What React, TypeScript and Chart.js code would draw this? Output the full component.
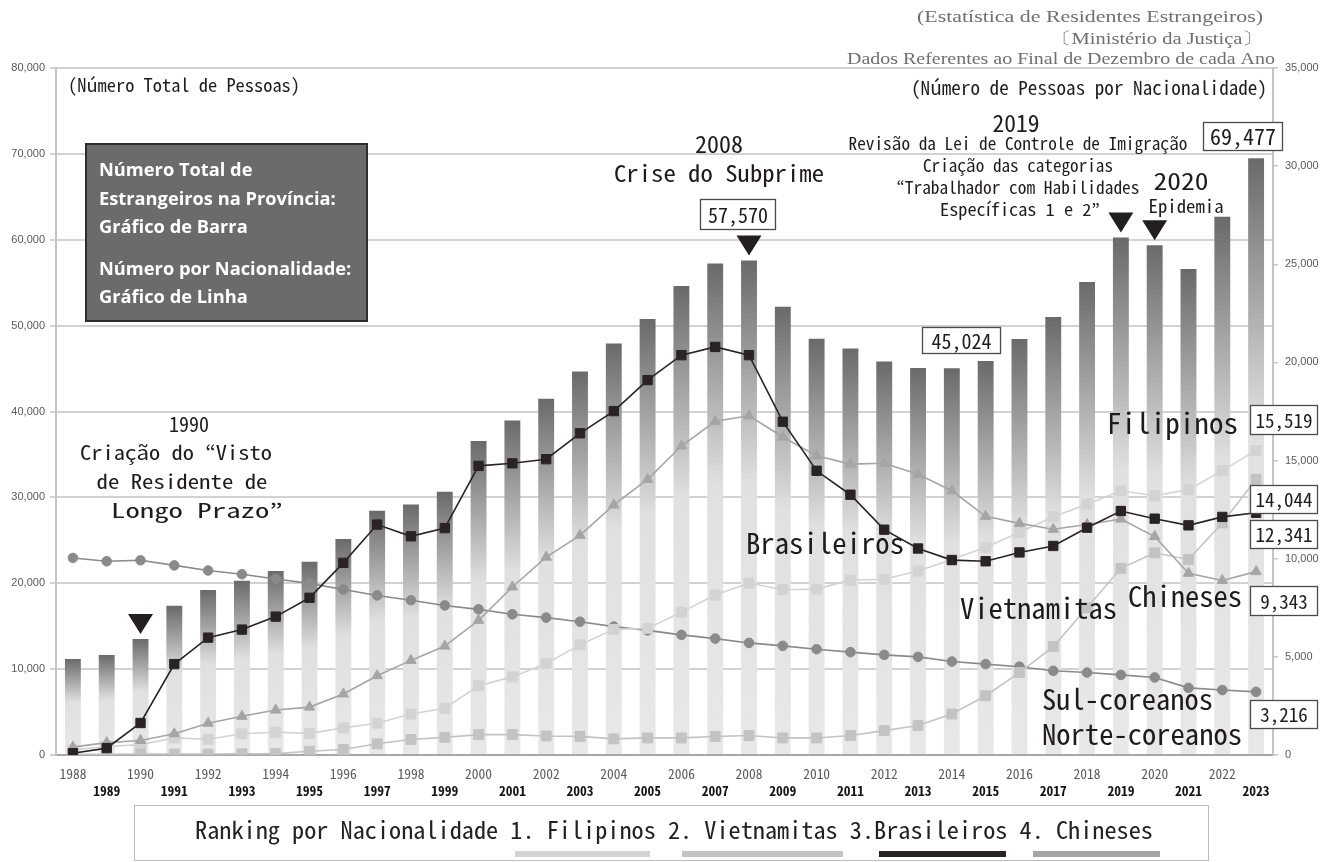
import React, { useEffect, useRef } from 'react';
import { Chart, registerables } from 'chart.js';

Chart.register(...registerables);

// ---------- DATA ----------
const years = [
  '1988', '1989', '1990', '1991', '1992', '1993', '1994', '1995', '1996', '1997', '1998', '1999',
  '2000', '2001', '2002', '2003', '2004', '2005', '2006', '2007', '2008', '2009', '2010', '2011',
  '2012', '2013', '2014', '2015', '2016', '2017', '2018', '2019', '2020', '2021', '2022', '2023',
];

// Total foreign residents (left axis, bars)
const totalForeigners = [
  11180, 11640, 13500, 17380, 19200, 20300, 21440, 22500, 25150, 28440, 29180, 30650,
  36560, 38950, 41480, 44660, 47920, 50760, 54600, 57220, 57570, 52190, 48470, 47350,
  45830, 45070, 45024, 45870, 48430, 51000, 55070, 60270, 59370, 56580, 62670, 69477,
];

// Residents by nationality (right axis, lines)
const filipinos = [
  260, 430, 530, 870, 800, 1080, 1160, 1100, 1380, 1620, 2090, 2380,
  3530, 3980, 4660, 5610, 6400, 6450, 7280, 8150, 8760, 8420, 8450, 8910,
  8950, 9370, 9960, 10580, 11340, 12140, 12780, 13460, 13210, 13520, 14490, 15519,
];
const vietnamitas = [
  40, 40, 50, 50, 50, 60, 70, 190, 280, 570, 790, 900,
  1040, 1040, 970, 950, 820, 870, 870, 940, 990, 870, 870, 990,
  1240, 1500, 2090, 3020, 4200, 5520, 7500, 9510, 10300, 9960, 11820, 14044,
];
const brasileiros = [
  90, 350, 1630, 4630, 5980, 6390, 7050, 8010, 9790, 11740, 11140, 11560,
  14730, 14860, 15070, 16390, 17520, 19100, 20370, 20790, 20370, 16980, 14480, 13260,
  11480, 10520, 9930, 9870, 10320, 10650, 11580, 12430, 12040, 11700, 12130, 12341,
];
const chineses = [
  400, 630, 740, 1080, 1620, 1970, 2290, 2440, 3110, 4040, 4820, 5550,
  6860, 8560, 10080, 11190, 12740, 14040, 15740, 17000, 17280, 16200, 15250, 14820,
  14860, 14300, 13460, 12160, 11800, 11500, 11740, 12020, 11130, 9260, 8890, 9343,
];
const coreanos = [
  10040, 9870, 9920, 9660, 9400, 9210, 8970, 8745, 8430, 8130, 7885, 7620,
  7420, 7170, 7000, 6790, 6540, 6350, 6120, 5930, 5710, 5560, 5390, 5240,
  5100, 5000, 4760, 4630, 4500, 4290, 4200, 4080, 3950, 3420, 3310, 3216,
];

const markedYears = ['1990', '2008', '2019', '2020'];

const COLORS = {
  filipinos: '#d3d3d3',
  vietnamitas: '#c3c3c3',
  brasileiros: '#2a2324',
  chineses: '#a5a5a5',
  coreanos: '#8a8a8a',
};

const MONO = "'Noto Sans Mono CJK JP', 'Noto Sans CJK JP', 'DejaVu Sans Mono', monospace";
const SERIF = "'Liberation Serif', 'DejaVu Serif', serif";
const SANS = "'Liberation Sans', Arial, sans-serif";
const BOXSANS = "'Open Sans', 'Noto Sans', sans-serif";

type TOpt = {
  align?: 'left' | 'center' | 'right';
  width?: number;
  color?: string;
  family?: string;
  weight?: string;
};

function drawText(ctx: CanvasRenderingContext2D, text: string, x: number, y: number, size: number, opt: TOpt = {}) {
  ctx.save();
  ctx.font = `${opt.weight || 'normal'} ${size}px ${opt.family || MONO}`;
  ctx.fillStyle = opt.color || '#1f1a1b';
  ctx.textBaseline = 'middle';
  ctx.textAlign = 'left';
  const w0 = ctx.measureText(text).width || 1;
  const w = opt.width || w0;
  let left = x;
  if (opt.align === 'center') left = x - w / 2;
  else if (opt.align === 'right') left = x - w;
  ctx.translate(left, y);
  ctx.scale(w / w0, 1);
  ctx.fillText(text, 0, 0);
  ctx.restore();
}

function valueBox(ctx: CanvasRenderingContext2D, x0: number, y0: number, x1: number, y1: number, text: string, size: number) {
  ctx.save();
  ctx.fillStyle = '#ffffff';
  ctx.fillRect(x0, y0, x1 - x0, y1 - y0);
  ctx.strokeStyle = '#4a4a4a';
  ctx.lineWidth = 1.3;
  ctx.strokeRect(x0 + 0.5, y0 + 0.5, x1 - x0, y1 - y0);
  ctx.restore();
  drawText(ctx, text, (x0 + x1) / 2 + 0.5, (y0 + y1) / 2 + 1, size, { align: 'center' });
}

const annotationPlugin = {
  id: 'annotations',
  afterDraw(chart: any) {
    const ctx: CanvasRenderingContext2D = chart.ctx;
    const xs = chart.scales.x;
    const ys = chart.scales.y;

    // Source lines (top right)
    const gray = '#6f6f6f';
    drawText(ctx, '(Estatística de Residentes Estrangeiros)', 1263, 18, 17, { align: 'right', width: 346, color: gray, family: SERIF });
    drawText(ctx, '〔Ministério da Justiça〕', 1263, 40, 17, { align: 'right', width: 212, color: gray, family: SERIF });
    drawText(ctx, 'Dados Referentes ao Final de Dezembro de cada Ano', 1275, 60, 17, { align: 'right', width: 428, color: gray, family: SERIF });

    // Axis captions
    drawText(ctx, '(Número Total de Pessoas)', 68, 85, 18.5, { width: 232 });
    drawText(ctx, '(Número de Pessoas por Nacionalidade)', 1267, 88, 19, { align: 'right', width: 356 });

    // Dark explanation box
    ctx.save();
    ctx.fillStyle = '#6b6b6b';
    ctx.fillRect(86, 144, 281, 177);
    ctx.strokeStyle = '#2e2e2e';
    ctx.lineWidth = 2;
    ctx.strokeRect(86, 144, 281, 177);
    ctx.font = `bold 16px ${BOXSANS}`;
    const ref = ctx.measureText('Estrangeiros na Província:').width || 237;
    const bsize = 16 * 237 / ref;
    ctx.restore();
    const boxLines: [string, number][] = [
      ['Número Total de', 171],
      ['Estrangeiros na Província:', 199.5],
      ['Gráfico de Barra', 228],
      ['Número por Nacionalidade:', 270],
      ['Gráfico de Linha', 297.5],
    ];
    boxLines.forEach(([t, y]) => drawText(ctx, t, 99, y, bsize, { color: '#ffffff', family: BOXSANS, weight: 'bold' }));

    // 1990 annotation
    drawText(ctx, '1990', 169, 424, 20);
    drawText(ctx, 'Criação do “Visto', 176, 452, 20, { align: 'center', width: 192 });
    drawText(ctx, 'de Residente de', 182, 481, 20, { align: 'center', width: 171 });
    drawText(ctx, 'Longo Prazo”', 197, 510, 20, { align: 'center', width: 172 });

    // 2008 annotation
    drawText(ctx, '2008', 719, 144, 23, { align: 'center', width: 48 });
    drawText(ctx, 'Crise do Subprime', 719, 173, 23, { align: 'center', width: 210 });
    valueBox(ctx, 700, 199, 775, 229, '57,570', 20);

    // 2019 / 2020 annotation
    drawText(ctx, '2019', 1016, 123, 24, { align: 'center', width: 47 });
    drawText(ctx, 'Revisão da Lei de Controle de Imigração', 1018, 144, 17, { align: 'center', width: 339 });
    drawText(ctx, 'Criação das categorias', 1018, 166, 17, { align: 'center', width: 190 });
    drawText(ctx, '“Trabalhador com Habilidades', 1018, 188, 17, { align: 'center', width: 243 });
    drawText(ctx, 'Específicas 1 e 2”', 1020, 210, 17, { align: 'center', width: 160 });
    drawText(ctx, '2020', 1181, 181, 24, { align: 'center', width: 55 });
    drawText(ctx, 'Epidemia', 1186, 206, 18, { align: 'center', width: 75 });
    valueBox(ctx, 1203, 122, 1282, 150, '69,477', 22);
    valueBox(ctx, 922, 327, 1000, 353, '45,024', 20);

    // Event triangles (positioned from scales)
    markedYears.forEach((yr) => {
      const i = years.indexOf(yr);
      const px = xs.getPixelForValue(i);
      const top = ys.getPixelForValue(totalForeigners[i]);
      const tip = top - 5;
      ctx.save();
      ctx.fillStyle = '#231f20';
      ctx.beginPath();
      ctx.moveTo(px - 12.5, tip - 20);
      ctx.lineTo(px + 12.5, tip - 20);
      ctx.lineTo(px, tip);
      ctx.closePath();
      ctx.fill();
      ctx.restore();
    });

    // Series labels
    drawText(ctx, 'Filipinos', 1107, 423, 28.5, { width: 131 });
    drawText(ctx, 'Brasileiros', 746, 543, 28.5, { width: 158 });
    drawText(ctx, 'Vietnamitas', 960, 608, 28.5, { width: 157 });
    drawText(ctx, 'Chineses', 1128, 596, 28.5, { width: 114 });
    drawText(ctx, 'Sul-coreanos', 1042, 699, 28.5, { width: 171 });
    drawText(ctx, 'Norte-coreanos', 1042, 734, 28.5, { width: 200 });

    // Latest values
    valueBox(ctx, 1250, 405, 1317, 434, '15,519', 19);
    valueBox(ctx, 1250, 485, 1317, 513, '14,044', 19);
    valueBox(ctx, 1250, 520, 1317, 548, '12,341', 19);
    valueBox(ctx, 1250, 586, 1317, 615, '9,343', 19);
    valueBox(ctx, 1250, 700, 1317, 728, '3,216', 19);

    // Bottom ranking legend
    ctx.save();
    ctx.setLineDash([1, 1]);
    ctx.strokeStyle = '#7a7a7a';
    ctx.lineWidth = 1;
    ctx.strokeRect(134.5, 805.5, 1074, 55);
    ctx.restore();
    drawText(ctx, 'Ranking por Nacionalidade 1. Filipinos 2. Vietnamitas 3.Brasileiros 4. Chineses', 195, 830, 24, { width: 958, color: '#222' });
    const legendBars: [number, number, string][] = [
      [515, 650, COLORS.filipinos],
      [682, 843, COLORS.vietnamitas],
      [879, 1006, COLORS.brasileiros],
      [1033, 1160, COLORS.chineses],
    ];
    legendBars.forEach(([a, b, c]) => {
      ctx.save();
      ctx.fillStyle = c;
      ctx.fillRect(a, 851, b - a, 6);
      ctx.restore();
    });
  },
};

function barGradient(c: any) {
  const chart = c.chart;
  const { ctx, chartArea, scales } = chart;
  if (!chartArea || c.type !== 'data' || !scales.y) return '#cccccc';
  const top = scales.y.getPixelForValue(c.raw);
  const bot = scales.y.getPixelForValue(0);
  const g = ctx.createLinearGradient(0, top, 0, bot);
  g.addColorStop(0, '#6a6a6a');
  g.addColorStop(0.45, '#e0e0e0');
  g.addColorStop(1, '#e8e8e8');
  return g;
}

function lineSet(label: string, data: number[], color: string, style: string, radius: number, order: number, width = 1.6) {
  return {
    type: 'line' as const,
    label,
    data,
    yAxisID: 'y2',
    borderColor: color,
    backgroundColor: color,
    borderWidth: width,
    pointStyle: style,
    pointRadius: radius,
    pointBackgroundColor: color,
    pointBorderColor: color,
    pointBorderWidth: 1,
    tension: 0,
    order,
  };
}

export default function App() {
  const canvasRef = useRef<HTMLCanvasElement | null>(null);

  useEffect(() => {
    document.body.style.margin = '0';
    const canvas = canvasRef.current;
    if (!canvas) return;
    const chart = new Chart(canvas, {
      data: {
        labels: years,
        datasets: [
          lineSet('Brasileiros', brasileiros, COLORS.brasileiros, 'rect', 6.6, 1),
          lineSet('Chineses', chineses, COLORS.chineses, 'triangle', 6, 2),
          lineSet('Vietnamitas', vietnamitas, COLORS.vietnamitas, 'rect', 7, 3),
          lineSet('Filipinos', filipinos, COLORS.filipinos, 'rect', 7, 4),
          lineSet('Sul-coreanos / Norte-coreanos', coreanos, COLORS.coreanos, 'circle', 4.8, 5),
          {
            type: 'bar' as const,
            label: 'Total',
            data: totalForeigners,
            yAxisID: 'y',
            backgroundColor: barGradient,
            borderWidth: 0,
            barPercentage: 0.47,
            categoryPercentage: 1,
            order: 10,
          },
        ] as any,
      },
      options: {
        responsive: false,
        animation: false,
        layout: { padding: { top: 68, left: 0, right: 0, bottom: 62 } },
        plugins: {
          legend: { display: false },
          tooltip: { enabled: false },
        },
        scales: {
          x: {
            type: 'category',
            offset: true,
            grid: { display: false, drawTicks: false, tickLength: 0 },
            border: { display: true, color: '#a8a8a8', width: 2 },
            ticks: {
              autoSkip: false,
              maxRotation: 0,
              minRotation: 0,
              padding: 10,
              callback: (_v: any, i: number) => (i % 2 === 0 ? years[i] : ['', years[i]]),
              color: (c: any) => (c.index % 2 === 0 ? '#5a5a5a' : '#151515'),
              font: (c: any) => ({
                family: MONO,
                size: 13.5,
                weight: c.index % 2 === 0 ? 'normal' : 'bold',
                lineHeight: 1.26,
              }),
            },
            afterFit: (s: any) => { s.height = 45; },
          },
          y: {
            position: 'left',
            min: 0,
            max: 80000,
            ticks: {
              stepSize: 10000,
              padding: 5,
              color: '#595959',
              font: { family: SANS, size: 11 },
              callback: (v: any) => Number(v).toLocaleString('en-US'),
            },
            grid: { color: '#d2d2d2', lineWidth: 2, tickLength: 6, drawTicks: true },
            border: { display: true, color: '#c4c4c4', width: 2 },
            afterFit: (s: any) => { s.width = 56; },
          },
          y2: {
            position: 'right',
            min: 0,
            max: 35000,
            ticks: {
              stepSize: 5000,
              padding: 7,
              color: '#595959',
              font: { family: SANS, size: 11 },
              callback: (v: any) => Number(v).toLocaleString('en-US'),
            },
            grid: { drawOnChartArea: false, color: '#c4c4c4', tickLength: 5, lineWidth: 1.5 },
            border: { display: true, color: '#c4c4c4', width: 2 },
            afterFit: (s: any) => { s.width = 60; },
          },
        },
      } as any,
      plugins: [annotationPlugin],
    });
    return () => chart.destroy();
  }, []);

  return (
    <div style={{ position: 'fixed', left: 0, top: 0, width: 1333, height: 862, background: '#ffffff' }}>
      <canvas ref={canvasRef} width={1333} height={862} style={{ width: 1333, height: 862, display: 'block' }} />
    </div>
  );
}
